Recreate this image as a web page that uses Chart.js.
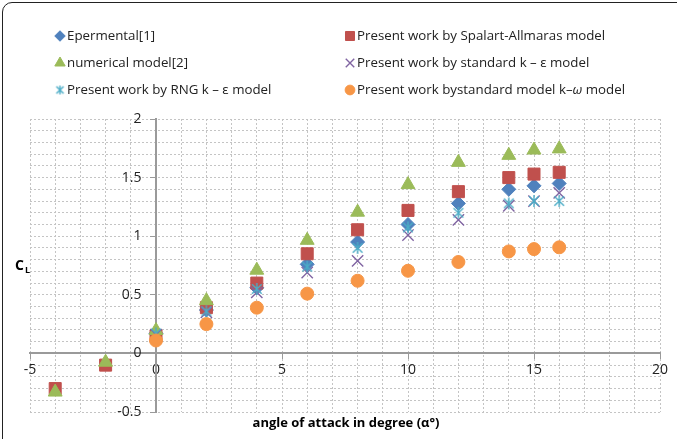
<!DOCTYPE html>
<html>
<head>
<meta charset="utf-8">
<script src="https://cdn.jsdelivr.net/npm/chart.js@4/dist/chart.umd.min.js"></script>
<style>
  html, body { margin: 0; padding: 0; background: #fff; overflow: hidden; }
  #wrap { position: relative; width: 677px; height: 439px; overflow: hidden; }
  #frame { position: absolute; left: 2px; top: 2px; width: 690px; height: 480px;
           border: 1.5px solid #222; border-radius: 10px; box-sizing: border-box; }
  canvas { position: absolute; left: 0; top: 0; }
</style>
</head>
<body>
<div id="wrap">
  <div id="frame"></div>
  <canvas id="chart" width="677" height="439"></canvas>
</div>
<script>
// angle of attack (deg)
const alphaFull = [-4, -2, 0, 2, 4, 6, 8, 10, 12, 14, 15, 16];
const alphaPos = [0, 2, 4, 6, 8, 10, 12, 14, 15, 16];

// lift coefficient CL per series
const experimental = [0.17, 0.37, 0.56, 0.76, 0.95, 1.10, 1.28, 1.40, 1.43, 1.45];
const spalart = [-0.30, -0.10, 0.15, 0.39, 0.60, 0.85, 1.055, 1.22, 1.38, 1.50, 1.53, 1.545];
const numerical = [-0.33, -0.075, 0.195, 0.45, 0.71, 0.965, 1.205, 1.44, 1.63, 1.69, 1.735, 1.745];
const standardKe = [0.16, 0.35, 0.52, 0.69, 0.79, 1.01, 1.14, 1.26, 1.30, 1.37];
const rngKe = [0.17, 0.36, 0.55, 0.74, 0.90, 1.075, 1.20, 1.28, 1.30, 1.30];
const kOmega = [0.11, 0.25, 0.39, 0.51, 0.62, 0.705, 0.78, 0.87, 0.89, 0.905];

const xTickLabels = [-5, 0, 5, 10, 15, 20];
const yTickLabels = [-0.5, 0, 0.5, 1, 1.5, 2];

const seriesNames = [
  "Epermental[1]",
  "Present work by Spalart-Allmaras model",
  "numerical model[2]",
  "Present work by standard k \u2013 \u03b5 model",
  "Present work by RNG k \u2013 \u03b5 model",
  "Present work bystandard model k\u2013"
];

function pts(xs, ys) { return ys.map((y, i) => ({ x: xs[i], y: y })); }

// excel-like asterisk marker (X plus vertical stroke)
function asterisk(size, color) {
  const c = document.createElement("canvas");
  c.width = size; c.height = size;
  const g = c.getContext("2d");
  const m = size / 2, r = size / 2 - 1;
  g.strokeStyle = color;
  g.lineWidth = 1.4;
  g.beginPath();
  g.moveTo(m - r * 0.8, m - r * 0.8); g.lineTo(m + r * 0.8, m + r * 0.8);
  g.moveTo(m + r * 0.8, m - r * 0.8); g.lineTo(m - r * 0.8, m + r * 0.8);
  g.moveTo(m, m - r); g.lineTo(m, m + r);
  g.stroke();
  return c;
}

const styles = [
  { pointStyle: "rectRot", color: "#4F81BD", radius: 7, border: 1 },
  { pointStyle: "rect", color: "#C0504D", radius: 8.5, border: 1 },
  { pointStyle: "triangle", color: "#9BBB59", radius: 8, border: 1 },
  { pointStyle: "crossRot", color: "#8064A2", radius: 8, border: 1.4 },
  { pointStyle: asterisk(14, "#4BACC6"), color: "#4BACC6", radius: 7, border: 1.4 },
  { pointStyle: "circle", color: "#F79646", radius: 6.5, border: 1 }
];
const legendStar = asterisk(11, "#4BACC6");

const seriesData = [
  pts(alphaPos, experimental),
  pts(alphaFull, spalart),
  pts(alphaFull, numerical),
  pts(alphaPos, standardKe),
  pts(alphaPos, rngKe),
  pts(alphaPos, kOmega)
];

const datasets = seriesData.map((d, i) => ({
  label: seriesNames[i],
  data: d,
  pointStyle: styles[i].pointStyle,
  pointRadius: styles[i].radius,
  pointHoverRadius: styles[i].radius,
  backgroundColor: styles[i].color,
  borderColor: styles[i].color,
  pointBorderWidth: styles[i].border,
  showLine: false,
  order: 6 - i
}));

const font = "'Open Sans', 'Liberation Sans', sans-serif";
const legendFont = "13.3px " + font;

// legend + axis titles drawn on top
const extras = {
  id: "extras",
  afterDraw(chart) {
    const ctx = chart.ctx;
    const cols = [60, 350];
    const rows = [36, 63, 90];
    ctx.save();
    ctx.textBaseline = "middle";
    seriesNames.forEach((name, i) => {
      const cx = cols[i % 2], cy = rows[Math.floor(i / 2)];
      const s = styles[i];
      ctx.fillStyle = s.color;
      ctx.strokeStyle = s.color;
      ctx.lineWidth = s.border;
      const ps = i === 4 ? legendStar : s.pointStyle;
      Chart.helpers.drawPoint(ctx, { pointStyle: ps, radius: s.radius * 0.75, borderWidth: s.border }, cx, cy);
      ctx.fillStyle = "#222";
      ctx.font = legendFont;
      ctx.textAlign = "left";
      const tx = cx + 7;
      ctx.fillText(name, tx, cy);
      if (i === 5) {
        let w = ctx.measureText(name).width;
        ctx.font = "italic " + legendFont;
        ctx.fillText("\u03c9", tx + w, cy);
        w += ctx.measureText("\u03c9").width;
        ctx.font = legendFont;
        ctx.fillText(" model", tx + w, cy);
      }
    });
    // axis titles
    ctx.fillStyle = "#000";
    ctx.font = "bold 13px " + font;
    ctx.textAlign = "center";
    ctx.fillText("angle of attack in degree (\u03b1\u00b0)", 346, 423);
    ctx.textAlign = "left";
    ctx.font = "bold 14px " + font;
    ctx.fillText("C", 15, 266);
    ctx.font = "bold 9px " + font;
    ctx.fillText("L", 25, 270);
    ctx.restore();
  }
};

const isMultiple = (v, step) => Math.abs(Math.round(v / step) * step - v) < 1e-6;

new Chart(document.getElementById("chart"), {
  type: "scatter",
  data: { datasets: datasets },
  options: {
    responsive: false,
    animation: false,
    layout: { padding: { left: 30, right: 17, top: 119, bottom: 27 } },
    plugins: { legend: { display: false }, tooltip: { enabled: false } },
    scales: {
      x: {
        type: "linear",
        position: { y: 0 },
        min: -5, max: 20,
        grid: {
          color: "#c4c4c4",
          lineWidth: 1,
          tickLength: 5,
          tickColor: c => (c.tick && isMultiple(c.tick.value, 5)) ? "#9a9a9a" : "rgba(0,0,0,0)"
        },
        border: { color: "#9a9a9a", width: 2, dash: [2, 2] },
        ticks: {
          stepSize: 1,
          autoSkip: false,
          maxRotation: 0,
          color: "#222",
          font: { family: font, size: 14 },
          callback: v => xTickLabels.includes(v) ? String(v) : ""
        }
      },
      y: {
        type: "linear",
        position: { x: 0 },
        min: -0.5, max: 2,
        grid: {
          color: "#c4c4c4",
          lineWidth: 1,
          tickLength: 5,
          tickColor: c => (c.tick && isMultiple(c.tick.value, 0.5)) ? "#9a9a9a" : "rgba(0,0,0,0)"
        },
        border: { color: "#9a9a9a", width: 2, dash: [2, 2] },
        ticks: {
          stepSize: 0.1,
          autoSkip: false,
          color: "#222",
          font: { family: font, size: 14 },
          // trailing spaces keep the labels clear of the axis line
          callback: v => {
            const r = Math.round(v * 10) / 10;
            return yTickLabels.includes(r) ? String(r) + "    " : "";
          }
        }
      }
    }
  },
  plugins: [extras]
});
</script>
</body>
</html>
